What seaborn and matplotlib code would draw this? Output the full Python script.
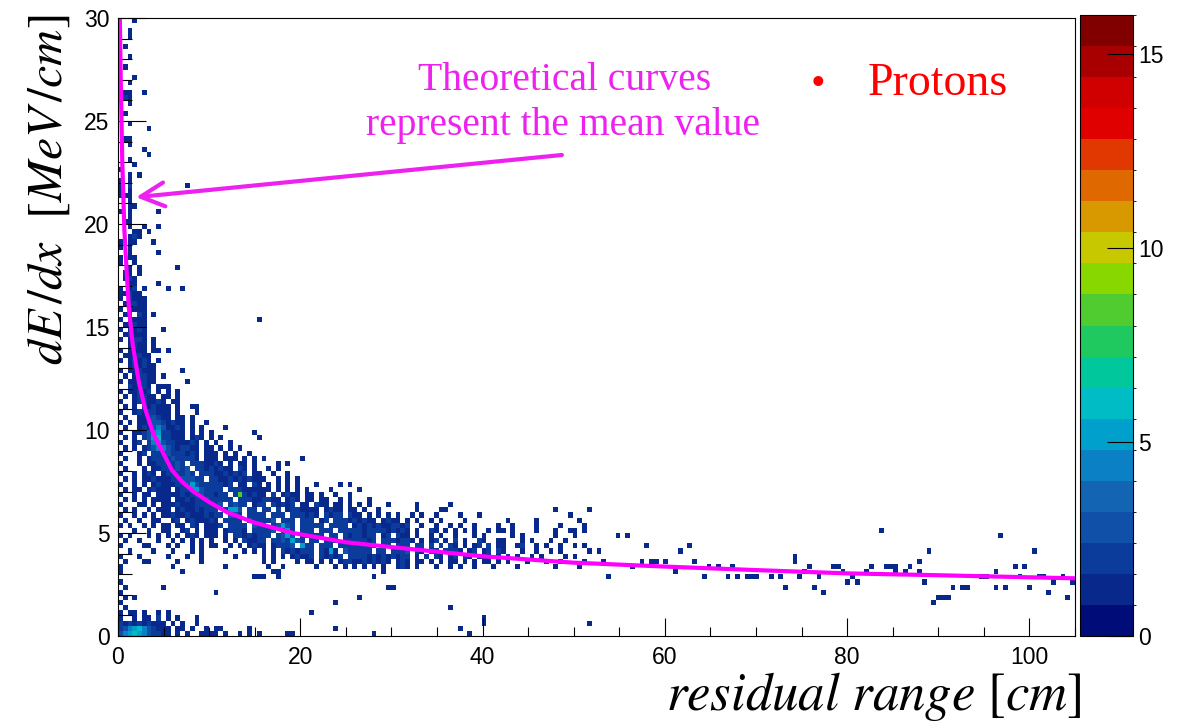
import numpy as np
import pandas as pd
import matplotlib
matplotlib.use("Agg")
import matplotlib.pyplot as plt
import seaborn as sns
from matplotlib.colors import ListedColormap, BoundaryNorm

# ---------------- data ----------------
X_BIN = 0.525   # cm per histogram column
Y_BIN = 0.25    # MeV/cm per histogram row
X_MAX = 105.0
Y_MAX = 30.0
Z_MAX = 16.0

# histogram cells: key = row index (y = row*Y_BIN),
# each character = one column (x = col*X_BIN), '.' = empty, digit = entries
GRID_ROWS = {
    119: "...1",
    117: "..1",
    116: "..1",
    114: ".1",
    112: "..1",
    110: ".1",
    108: "...1",
    107: "..1",
    105: ".11..1",
    104: ".21",
    103: "..1",
    101: ".1",
    99: "..1",
    98: "......1",
    96: ".11",
    95: "..1",
    94: ".....1",
    93: "......1",
    92: "..1",
    91: "...1",
    90: "1",
    89: "..1.1",
    88: "1.1",
    87: "1.2....... ....1",
    86: "1.1",
    85: "111",
    84: "..1",
    83: "..11",
    82: "1.1.....1",
    81: "..1",
    80: ".11",
    79: "..1..1..1",
    78: "...11.1",
    77: "..121",
    76: "1.11...1",
    75: "1.1",
    74: "..1.....1",
    73: "1.11",
    72: "1..1",
    71: "..1.1..... ..1",
    70: ".11.1",
    69: ".121",
    68: "..11....1",
    67: "1.12.1.... 1..1",
    66: "11211",
    65: "1.2111",
    64: ".12211",
    63: "1.2111",
    62: ".11.21.1",
    61: "1.2111.... .......... .........1",
    60: ".11211",
    59: "1.1121...1",
    58: ".12111",
    57: "1.1221.1",
    56: "..1211.1",
    55: "1.1111.11. 1",
    54: ".111211",
    53: "1.12121.1",
    52: "..121211",
    51: "1.112111.. ...1",
    50: ".1.12211.1",
    49: "1.112211.. ....1",
    48: "..21121.11 1",
    47: "1.11212.1. 1.1",
    46: ".1.12211.1 1.1",
    45: "1..1221121 .11",
    44: ".1.1.21211 1.1..11",
    43: "1..1212211 1.1...1",
    42: ".1..112321 1.11.1",
    41: "1.1.112332 1211.1..1",
    40: ".1..121343 1121.1.1.. ..1",
    39: "1..1123452 2111.1.1.1 ........1",
    38: ".1.1.23562 2111.121.1 .1.......1",
    37: "1..12.2453 2211121.1. 1..1",
    36: ".1.1.12344 3212211.11 .1.1.1",
    35: "1...12.222 3222121.11 1.1.1..1",
    34: ".1..1.1222 2322221.11 1.111.1.1. 1.......1",
    33: "1...1.1122 2232.22211 21.1.11.1. ...1.1",
    32: ".1...1.112 22323.2212 1211.21.1. .1.1",
    31: "1..1.121.1 222232.222 1121212.11 ..1..1",
    30: ".1.1.11211 12233322.2 2112121211 1..1.1.1",
    29: "1..1.1.121 1122353222 2212.11.21 .1.1.1.1.. .1....1.1.",
    28: ".1.11.1211 1.12255322 22.2221111 11.1.1.1.1 ....1..... 1",
    27: "1..1.11.11 1112122322 122.282121 1.2.1211.1 1.1..1..1.",
    26: ".1.1.1.111 1.11212232 2222.22211 2211.121.1 1.11..1.1. ..1",
    25: "1...11.1.1 1121112222 23.2322.12 2.21212.11 .211.11.1. 1.1...1... ..1......1",
    24: ".1.1..1.11 1.12112122 2.2553.22. 22.2.12211 11.1211.11 .1..1..... ..1....11. .......... .......... .1......1.",
    23: "1..1.1.1.1 1211211121 22.332.222 2.222.2221 21.2122.21 1.1.1.1.1. .1.1..1... .1...1.... .......... ....1",
    22: ".1..1..11. .12.121112 1.2222.322 223.222.22 2.12.22212 1211.1211. 1.1..1.1.. ..1....... .1.....1.. ......1",
    21: "1.1..1.1.1 1.11.21.11 12.2222.32 2.23532.22 222.2222.1 2121211221 2..1..1..1 .1..1....1 ..1....1.. ..1....1..",
    20: "...1..1..1 1..12.1.11 1.12221.22 223.252.22 2.222.2222 2122221212 1.1..21.1. 1.1.1..1.1 1.1....1.. .1..11.1..",
    19: "1.1...1.1. 1.1.121.11 1.1.221212 22.2353.22 222.22.212 2122.12.21 1.1..1.1.. 1...1.1... ..1.1..... .1...1....",
    18: ".1..1...1. .1.1.1.1.1 ..1.1.2112 2.2232532. 22.222.222 2212.22212 21.1.12.1. 2.1..21..1 1...1.1... 1..1......",
    17: "1....11... 1.1..1.1.1 1..1.1.121 1.12223.52 2.222.2222 2222.22.22 2.22.2.2.2 1.1.12.2.1 1..12..1.1 ..1..1.1..",
    16: "..1....1.. .1...1.1.. ..1...1.1. 1.1.212122 2.2151.322 222.22.222 3.21.22.22 21.12.12.2 1...1..1.. 1.1.....1.",
    15: "1...1..... 1...1..1.. ....1..... 1.1.1.1211 2.21212.22 2212121212 2.1.2.21.1 2.21.121.1 .2.1..1.1. ...1.1....",
    14: ".1...11... ..1....1.. .......... 1.1....1.1 1.1.1.1221 1212121.12 1.11.1.1.1 1.1.1.11.1 .1...1...1 ..1....1..",
    13: "1......... .1........ ..1....... .1..1..... .1...1.1.1 .1.1.1..12 1.1...1..1 .1..1...1. ...1...... .1....1...",
    12: "1......... ...1...... .......... ..11...... .......... .....1",
    11: ".......... .......... ........11 1..1...... .......... ...1",
    10: "1",
    9: ".1.......1 .......... .......... .......... .......... ......11",
    8: "1......... .......... 1",
    7: ".1.1...... .......... .......... .......... .......... 1",
    6: "1......... .......... .......... .......... .....1",
    5: ".1........ .......... .......... .......... .......... .......... .........1",
    4: "1.11.1..1. 1......... .......... .......... 1",
    3: "1..1.11.2. 1.1...1... .......... .......... .......... .......... .......... ......1",
    2: "2121212111 .1.1..1... .......... .......... .......... .......... .......... ......1... .......... ........1",
    1: "2345643211 1.11.1..1. 11.....1.. .......... .....1.... .......... .......... .1",
    0: "3456543221 1.1.1..111 1.1..1.1.1 .....11... .......... ...1...... .......... ...1",
}

# sparse single entries beyond x = 52.5 cm (x, y)
TAIL_X = [52.5, 53.1, 54.0, 55.1, 55.8, 56.6, 57.3, 58.0, 58.6, 59.3, 60.0,
          61.0, 61.7, 62.6, 63.2, 64.1, 65.0, 65.7, 67.0, 67.5, 68.1, 69.0,
          69.6, 70.2, 71.9, 72.5, 73.0, 74.1, 74.1, 74.7, 75.6, 76.0, 76.5,
          77.1, 77.6, 78.4, 78.9, 79.6, 80.2, 80.7, 81.3, 82.2, 82.5, 83.6,
          84.2, 84.9, 85.1, 85.5, 86.6, 87.1, 87.7, 88.1, 88.6, 89.1, 89.7,
          90.2, 90.8, 91.3, 91.6, 92.4, 93.0, 94.6, 95.2, 96.1, 96.6, 97.1,
          97.6, 98.2, 99.2, 99.7, 100.1, 100.5, 101.0, 101.6, 102.1, 102.7,
          103.7, 104.2, 104.7]
TAIL_Y = [4.0, 3.56, 2.75, 4.95, 4.95, 3.45, 3.72, 4.33, 3.72, 3.72, 3.72,
          3.12, 4.0, 4.33, 3.72, 2.75, 3.45, 3.45, 2.75, 3.45, 2.75, 2.75,
          2.75, 2.75, 2.75, 2.8, 2.48, 3.6, 3.85, 2.8, 3.17, 3.45, 2.48,
          2.8, 2.2, 3.45, 3.45, 3.17, 2.52, 2.8, 2.52, 3.17, 3.45, 5.23,
          3.45, 3.45, 3.17, 3.45, 3.17, 3.45, 3.17, 3.69, 2.72, 4.0, 1.55,
          1.88, 1.88, 1.88, 2.48, 2.48, 2.48, 2.75, 2.75, 2.48, 3.07, 4.95,
          2.48, 3.45, 2.75, 3.45, 2.48, 4.0, 2.75, 2.75, 2.2, 2.52,
          2.75, 1.88, 2.52]

# theoretical mean dE/dx curve
CURVE_X = [0.2, 0.3, 0.47, 0.7, 1.0, 1.2, 1.6, 2.3, 3.0, 3.85, 5.0, 5.9, 7.0,
           8.3, 10, 12, 15, 19.2, 25, 31, 40, 50, 60, 70, 80, 90, 100, 105]
CURVE_Y = [30, 27, 23, 19.7, 17.3, 15.9, 14.2, 12.3, 11.0, 9.85, 8.85, 8.06,
           7.5, 7.0, 6.5, 6.0, 5.5, 5.0, 4.55, 4.27, 3.87, 3.56, 3.37, 3.2,
           3.04, 2.95, 2.85, 2.8]

# ROOT style palette, 20 contour bands from 0 to 16
PALETTE = ["#000c78", "#08288c", "#0b3c9c", "#1050a8", "#1464b4", "#0c80c4",
           "#00a0cc", "#00bcc4", "#00c89c", "#20c860", "#50cc30", "#88d800",
           "#c8c800", "#d89800", "#e06800", "#e03800", "#e00000", "#d00000",
           "#a80000", "#800000"]

Z_TICKS = [0, 5, 10, 15]
X_TICKS = [0, 20, 40, 60, 80, 100]
Y_TICKS = [0, 5, 10, 15, 20, 25, 30]

# ---------------- build table ----------------
xs, ys, ws = [], [], []
for row, s in GRID_ROWS.items():
    s = s.replace(" ", "")
    for col, ch in enumerate(s):
        if ch != ".":
            xs.append((col + 0.5) * X_BIN)
            ys.append((row + 0.5) * Y_BIN)
            ws.append(int(ch))
xs += TAIL_X
ys += TAIL_Y
ws += [1] * len(TAIL_X)
df = pd.DataFrame({"x": xs, "y": ys, "w": ws})

x_edges = np.linspace(0, X_MAX, int(round(X_MAX / X_BIN)) + 1)
y_edges = np.linspace(0, Y_MAX, int(round(Y_MAX / Y_BIN)) + 1)

# ---------------- style ----------------
plt.rcParams["font.family"] = ["Liberation Sans", "DejaVu Sans"]
plt.rcParams["mathtext.fontset"] = "stix"

W, H = 1196, 728
fig = plt.figure(figsize=(W / 100, H / 100), dpi=100)
fig.patch.set_facecolor("white")
ax = fig.add_axes([118 / W, 92 / H, 957 / W, 618 / H])
cax = fig.add_axes([1080 / W, 92 / H, 53 / W, 621 / H])

cmap = ListedColormap(PALETTE)
norm = BoundaryNorm(np.linspace(0, Z_MAX, len(PALETTE) + 1), cmap.N)

sns.histplot(data=df, x="x", y="y", weights="w", bins=[x_edges, y_edges],
             ax=ax, cmap=cmap, cbar=False)
mesh = ax.collections[0]
mesh.set_cmap(cmap)
mesh.set_norm(norm)

sns.lineplot(x=CURVE_X, y=CURVE_Y, ax=ax, color="#ff00ff", linewidth=3.0,
             sort=False, estimator=None, legend=False)

ax.set_xlim(0, X_MAX)
ax.set_ylim(0, Y_MAX)
ax.set_xticks(X_TICKS)
ax.set_xticks(np.arange(0, X_MAX + 0.1, 5), minor=True)
ax.set_yticks(Y_TICKS)
ax.set_yticks(np.arange(0, Y_MAX + 0.1, 1), minor=True)
ax.tick_params(axis="x", which="major", direction="in", length=13, width=0.8,
               top=False, labelsize=16.5, pad=7)
ax.tick_params(axis="x", which="minor", direction="in", length=6.5, width=0.8,
               top=False)
ax.tick_params(axis="y", which="major", direction="in", length=20, width=0.8,
               right=False, labelsize=16.5, pad=6)
ax.tick_params(axis="y", which="minor", direction="in", length=10, width=0.8,
               right=False)
for sp in ax.spines.values():
    sp.set_linewidth(0.8)
    sp.set_color("black")

ax.set_xlabel(r"$residual\ range\ [cm]$", fontsize=38, loc="right")
ax.xaxis.set_label_coords(1.007, -0.055)
ax.set_ylabel(r"$dE\,/dx\ \ [MeV\,/cm]$", fontsize=36, loc="top")
ax.yaxis.set_label_coords(-0.048, 1.005)

cb = fig.colorbar(mesh, cax=cax, ticks=Z_TICKS)
cb.outline.set_linewidth(0.8)
cax.tick_params(direction="in", length=19, width=0.8, labelsize=16.5, pad=4)

# annotations
MAG = "#ee22ee"
ax.annotate("", xy=(1.98, 21.3), xytext=(48.7, 23.35),
            arrowprops=dict(arrowstyle="->,head_length=0.85,head_width=0.43",
                            color=MAG, lw=3, shrinkA=0, shrinkB=0,
                            mutation_scale=20),
            annotation_clip=False)
fig.text(565 / W, 1 - 90 / H, "Theoretical curves", color=MAG,
         family="Liberation Serif", fontsize=28.5, ha="center", va="baseline")
fig.text(563.5 / W, 1 - 135 / H, "represent the mean value", color=MAG,
         family="Liberation Serif", fontsize=28.5, ha="center", va="baseline")
fig.text(868 / W, 1 - 95 / H, "Protons", color="#ff0000",
         family="Liberation Serif", fontsize=33, ha="left", va="baseline")
fig.text(818 / W, 1 - 95 / H, "\u2022", color="#ff0000",
         family="Liberation Serif", fontsize=30, ha="center", va="baseline")

fig.savefig("out.png", dpi=100, facecolor="white")
